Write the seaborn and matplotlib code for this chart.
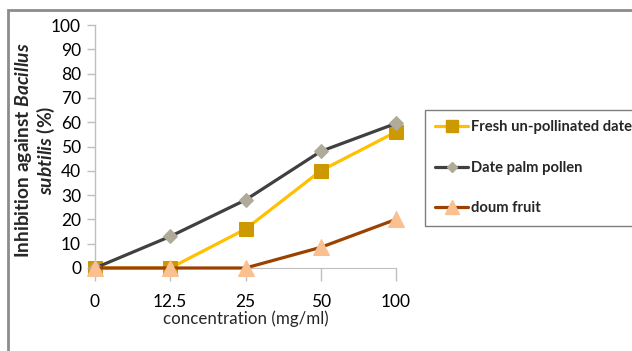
import matplotlib
matplotlib.use("Agg")
import matplotlib.pyplot as plt
import seaborn as sns
import pandas as pd
from matplotlib.patches import Rectangle
from matplotlib.lines import Line2D

conc_labels = ["0", "12.5", "25", "50", "100"]
fresh = [0, 0, 16, 40, 56]
pollen = [0, 13, 28, 48, 59.5]
doum = [0, 0, 0, 8.5, 20]
series_names = ["Fresh un-pollinated date", "Date palm pollen", "doum fruit"]
y_ticks = [0, 10, 20, 30, 40, 50, 60, 70, 80, 90, 100]

sns.set_style("white")
plt.rcParams["font.family"] = ["Lato", "DejaVu Sans"]
plt.rcParams["mathtext.fontset"] = "custom"
plt.rcParams["mathtext.bfit"] = "Lato:italic:bold"
plt.rcParams["mathtext.it"] = "Lato:italic"
plt.rcParams["mathtext.rm"] = "Lato"

fig = plt.figure(figsize=(6.32, 3.51), dpi=100)
W, H = 632, 351
ax = fig.add_axes([95 / W, 1 - 268 / H, (396 - 95) / W, (268 - 25) / H])

styles = [
    dict(color="#FFC000", marker="s", mfc="#CC9900", mec="#CC9900", ms=10),
    dict(color="#404040", marker="D", mfc="#B0AA98", mec="#B0AA98", ms=7),
    dict(color="#9C4100", marker="^", mfc="#FAC090", mec="#FAC090", ms=12),
]
data = [fresh, pollen, doum]
for name, vals, st in zip(series_names, data, styles):
    df = pd.DataFrame({"conc": conc_labels, "val": vals})
    sns.lineplot(data=df, x="conc", y="val", ax=ax, sort=False, color=st["color"],
                 linewidth=2.3, marker=st["marker"], markerfacecolor=st["mfc"],
                 markeredgecolor=st["mec"], markersize=st["ms"], label=name,
                 legend=False, clip_on=False, zorder=3)

ax.set_xlim(0, 4)
ax.set_ylim(0, 100)
ax.set_yticks(y_ticks)
ax.set_yticklabels([str(v) for v in y_ticks])
ax.set_xticks(range(len(conc_labels)))
ax.set_xticklabels(conc_labels)
for s in ["top", "right"]:
    ax.spines[s].set_visible(False)
ax.spines["left"].set_color("#BFBFBF")
ax.spines["bottom"].set_color("#BFBFBF")
ax.spines["left"].set_linewidth(1.0)
ax.tick_params(axis="y", which="both", left=True, length=6, width=1, color="#BFBFBF",
               labelsize=12.5, pad=4, labelcolor="black")
ax.tick_params(axis="x", which="both", bottom=True, length=9, width=1, color="#BFBFBF",
               labelsize=12.5, pad=10, labelcolor="black")
ax.set_xlabel("concentration (mg/ml)", fontsize=12.2, labelpad=0)
ax.set_ylabel("")

fig.text(35 / W, 1 - 150 / H,
         "Inhibition against $\\mathbfit{Bacillus}$\n$\\mathbfit{subtilis}$ (%)",
         rotation=90, ha="center", va="center", fontsize=13.8, fontweight="bold",
         linespacing=1.0, multialignment="center")

handles = [Line2D([], [], color=st["color"], linewidth=2.3, marker=st["marker"],
                  markerfacecolor=st["mfc"], markeredgecolor=st["mec"],
                  markersize=st["ms"] * 0.8) for st in styles]
leg = fig.legend(handles, series_names, loc="upper left",
                 bbox_to_anchor=(425 / W, 1 - 110 / H), frameon=True, fancybox=False,
                 edgecolor="#7F7F7F", framealpha=1, borderpad=0.7, labelspacing=1.8,
                 handlelength=2.25, handletextpad=0.2, borderaxespad=0,
                 prop={"weight": "bold", "size": 10.6})
leg.get_frame().set_linewidth(1.0)

fig.add_artist(Rectangle((8 / W, -0.2), 1.5, 1.2 + (1 - 10 / H) - 1, transform=fig.transFigure,
                         fill=False, edgecolor="#8C8C8C", linewidth=2, clip_on=False))

fig.savefig("out.png", dpi=100)
